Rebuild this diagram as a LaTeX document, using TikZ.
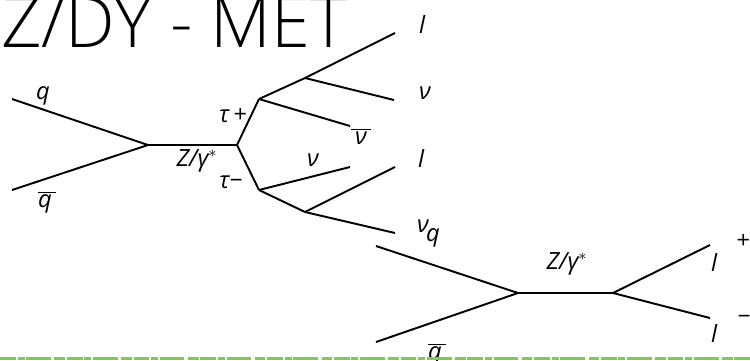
\documentclass[tikz,border=0pt]{standalone}
\usepackage{fontspec}
\setmainfont{Open Sans}
\IfFontExistsTF{Open Sans Light}{\newfontfamily\titlefont{Open Sans Light}\def\ttlscale{1}}{\newfontfamily\titlefont{Lato Light}\def\ttlscale{1.38}}
\newfontfamily\labfont{Open Sans}[UprightFont=*, ItalicFont=* Italic]
\begin{document}
\begin{tikzpicture}[x=0.02cm,y=-0.02cm,
  prop/.style={line width=1.1pt,black},
  lab/.style={inner sep=0pt,font=\labfont\itshape\fontsize{13.5}{14}\selectfont},
  ttl/.style={inner sep=0pt,anchor=base west,font=\titlefont\fontsize{40}{40}\selectfont}]
\useasboundingbox (0,0) rectangle (750,360);
% title
\node[ttl] (title) at (1,47) {\scalebox{\ttlscale}[1]{Z/DY - MET}};
% first diagram vertices
\coordinate (qa) at (12,99);
\coordinate (qb) at (12,190);
\coordinate (v1) at (148,145);
\coordinate (v2) at (237,145);
\coordinate (tp) at (259,99);
\coordinate (tm) at (259,190);
\coordinate (wp) at (305,78);
\coordinate (wm) at (305,212);
\coordinate (e1) at (395,33);
\coordinate (e2) at (394,100);
\coordinate (e3) at (350,126);
\coordinate (e4) at (350,167);
\coordinate (e5) at (395,167);
\coordinate (e6) at (395,233);
\draw[prop] (qa) -- (v1) -- (qb);
\draw[prop] (v1) -- (v2);
\draw[prop] (tp) -- (v2) -- (tm);
\draw[prop] (tp) -- (wp) -- (e1);
\draw[prop] (wp) -- (e2);
\draw[prop] (tp) -- (e3);
\draw[prop] (tm) -- (e4);
\draw[prop] (tm) -- (wm) -- (e5);
\draw[prop] (wm) -- (e6);
% labels first diagram
\node[lab] (lq) at (43,96) {q};
\node[lab] (lqb) at (47,202) {$\overline{\mbox{\labfont\itshape q\,}}$};
\node[lab] (ltp) at (233,116) {τ\,+};
\node[lab] (lz1) at (197,161) {Z/γ$^{*}$};
\node[lab] (ltm) at (231,182) {τ−};
\node[lab] (lnb) at (361,136) {$\overline{\mbox{\labfont\itshape\,ν\,}}$};
\node[lab] (ln2) at (313,160) {ν};
\node[lab] (ll1) at (422,24) {l};
\node[lab] (ln1) at (425,93) {ν};
\node[lab] (ll2) at (421,158) {l};
\node[lab] (ln3) at (423,226) {ν};
% second diagram
\coordinate (qc) at (376,246);
\coordinate (qd) at (376,342);
\coordinate (u1) at (518,293);
\coordinate (u2) at (613,293);
\coordinate (f1) at (710,245);
\coordinate (f2) at (710,318);
\draw[prop] (qc) -- (u1) -- (qd);
\draw[prop] (u1) -- (u2);
\draw[prop] (f1) -- (u2) -- (f2);
\node[lab] (lq2) at (433,238) {q};
\node[lab] (lqb2) at (437,354) {$\overline{\mbox{\labfont\itshape q\,}}$};
\node[lab] (lz2) at (567,264) {Z/γ$^{*}$};
\node[lab] (ll3) at (714,262) {l};
\node[lab] (lp) at (743,241) {+};
\node[lab] (ll4) at (714,333) {l};
\node[lab] (lm) at (744,320) {−};
% green band
\draw[line width=2.2pt,color={rgb,255:red,130;green,200;blue,85},dash pattern=on 9pt off 1pt on 4pt off 1pt on 14pt off 2pt on 6pt off 1pt] (0,358.5) -- (750,358.5);
\end{tikzpicture}
\end{document}
